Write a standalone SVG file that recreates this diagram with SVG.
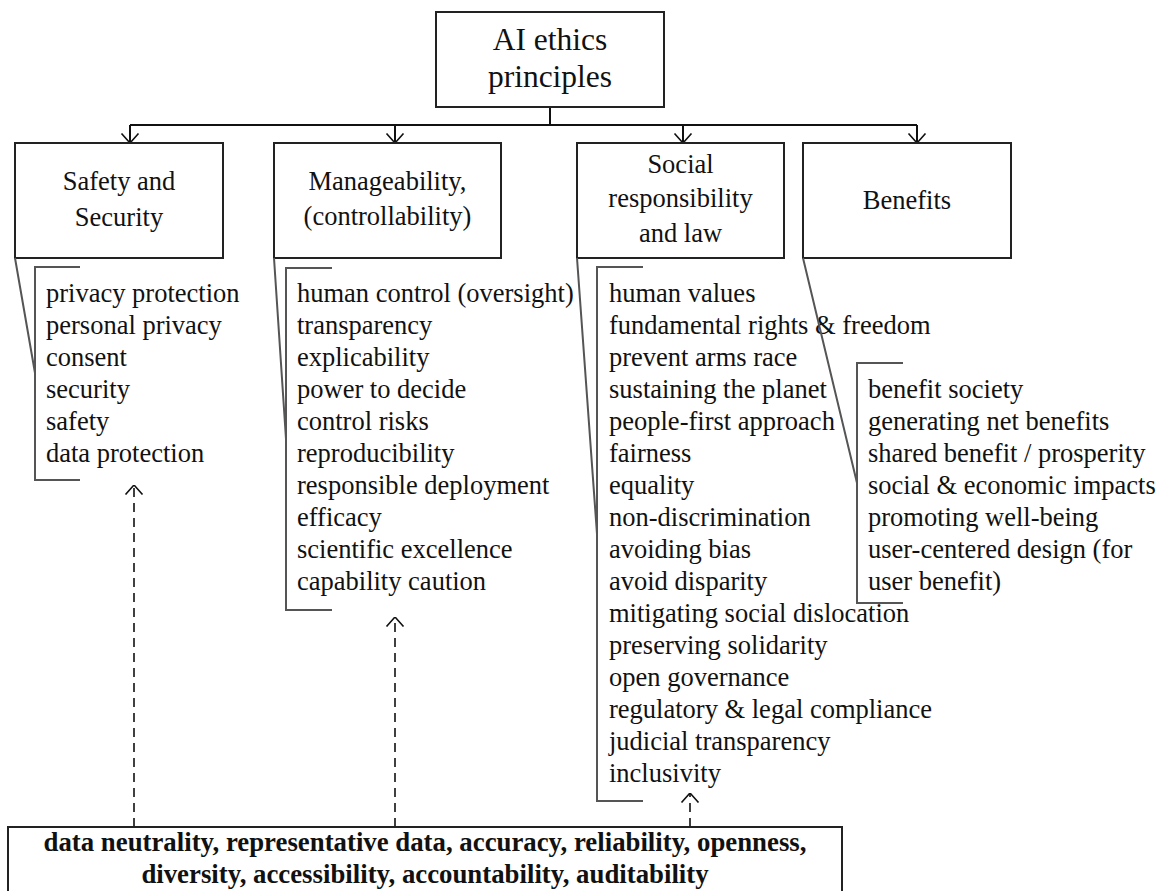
<svg xmlns="http://www.w3.org/2000/svg" width="1160" height="891" viewBox="0 0 1160 891">
<style>
.box{fill:#fff;stroke:#222;stroke-width:2}
.br{fill:none;stroke:#555;stroke-width:2}
.con{fill:none;stroke:#111;stroke-width:2}
.dash{fill:none;stroke:#111;stroke-width:1.6;stroke-dasharray:9 6}
.t{font-family:"Liberation Serif","Times New Roman",serif;font-size:26.5px;fill:#111}
.c{text-anchor:middle}
.title{font-size:31.5px}
.b{font-weight:bold;font-size:26.8px}
</style>
<defs>
<marker id="ah" viewBox="0 0 10 20" refX="10" refY="10" markerWidth="10" markerHeight="20" markerUnits="userSpaceOnUse" orient="auto">
<path d="M0.5,1.5 L10,10 L0.5,18.5" fill="none" stroke="#111" stroke-width="1.6"/>
</marker>
</defs>
<g id="connectors">
<path class="con" d="M550,107 V125 M130,125 H917"/>
<line class="con" x1="130" y1="125" x2="130" y2="143" marker-end="url(#ah)"/>
<line class="con" x1="395" y1="125" x2="395" y2="143" marker-end="url(#ah)"/>
<line class="con" x1="683" y1="125" x2="683" y2="143" marker-end="url(#ah)"/>
<line class="con" x1="917" y1="125" x2="917" y2="143" marker-end="url(#ah)"/>
<line class="dash" x1="134" y1="827" x2="134" y2="485" marker-end="url(#ah)"/>
<line class="dash" x1="395" y1="827" x2="395" y2="617" marker-end="url(#ah)"/>
<line class="dash" x1="690" y1="827" x2="690" y2="793" marker-end="url(#ah)"/>
</g>
<g id="root">
<rect class="box" x="436" y="12" width="228" height="95"/>
<text class="t c title" x="550" y="50">AI ethics</text>
<text class="t c title" x="550" y="87">principles</text>
</g>
<g id="safety">
<rect class="box" x="15" y="143" width="208" height="115"/>
<text class="t c" x="119" y="190">Safety and</text>
<text class="t c" x="119" y="226">Security</text>
<path class="br" d="M15,258 L35,373 M80,267 H35 V480 H80"/>
<text class="t" x="46" y="302">privacy protection</text>
<text class="t" x="46" y="334">personal privacy</text>
<text class="t" x="46" y="366">consent</text>
<text class="t" x="46" y="398">security</text>
<text class="t" x="46" y="430">safety</text>
<text class="t" x="46" y="462">data protection</text>
</g>
<g id="manageability">
<rect class="box" x="274" y="143" width="227" height="115"/>
<text class="t c" x="387.5" y="190">Manageability,</text>
<text class="t c" x="387.5" y="225">(controllability)</text>
<path class="br" d="M274,258 L286,439 M332,268 H286 V610 H332"/>
<text class="t" x="297" y="302">human control (oversight)</text>
<text class="t" x="297" y="334">transparency</text>
<text class="t" x="297" y="366">explicability</text>
<text class="t" x="297" y="398">power to decide</text>
<text class="t" x="297" y="430">control risks</text>
<text class="t" x="297" y="462">reproducibility</text>
<text class="t" x="297" y="494">responsible deployment</text>
<text class="t" x="297" y="526">efficacy</text>
<text class="t" x="297" y="558">scientific excellence</text>
<text class="t" x="297" y="590">capability caution</text>
</g>
<g id="social">
<rect class="box" x="577" y="143" width="207" height="115"/>
<text class="t c" x="680.5" y="173">Social</text>
<text class="t c" x="680.5" y="207">responsibility</text>
<text class="t c" x="680.5" y="242">and law</text>
<path class="br" d="M577,258 L597,534 M643,267 H597 V801 H643"/>
<text class="t" x="609" y="302">human values</text>
<text class="t" x="609" y="334">fundamental rights &amp; freedom</text>
<text class="t" x="609" y="366">prevent arms race</text>
<text class="t" x="609" y="398">sustaining the planet</text>
<text class="t" x="609" y="430">people-first approach</text>
<text class="t" x="609" y="462">fairness</text>
<text class="t" x="609" y="494">equality</text>
<text class="t" x="609" y="526">non-discrimination</text>
<text class="t" x="609" y="558">avoiding bias</text>
<text class="t" x="609" y="590">avoid disparity</text>
<text class="t" x="609" y="622">mitigating social dislocation</text>
<text class="t" x="609" y="654">preserving solidarity</text>
<text class="t" x="609" y="686">open governance</text>
<text class="t" x="609" y="718">regulatory &amp; legal compliance</text>
<text class="t" x="609" y="750">judicial transparency</text>
<text class="t" x="609" y="782">inclusivity</text>
</g>
<g id="benefits">
<rect class="box" x="803" y="143" width="208" height="115"/>
<text class="t c" x="907" y="209">Benefits</text>
<path class="br" d="M803,258 L857,483 M903,363 H857 V603 H903"/>
<text class="t" x="868" y="398">benefit society</text>
<text class="t" x="868" y="430">generating net benefits</text>
<text class="t" x="868" y="462">shared benefit / prosperity</text>
<text class="t" x="868" y="494">social &amp; economic impacts</text>
<text class="t" x="868" y="526">promoting well-being</text>
<text class="t" x="868" y="558">user-centered design (for</text>
<text class="t" x="868" y="590">user benefit)</text>
</g>
<g id="data-qualities">
<rect class="box" x="8" y="827" width="834" height="90"/>
<text class="t c b" x="425" y="851">data neutrality, representative data, accuracy, reliability, openness,</text>
<text class="t c b" x="425" y="883">diversity, accessibility, accountability, auditability</text>
</g>
</svg>
